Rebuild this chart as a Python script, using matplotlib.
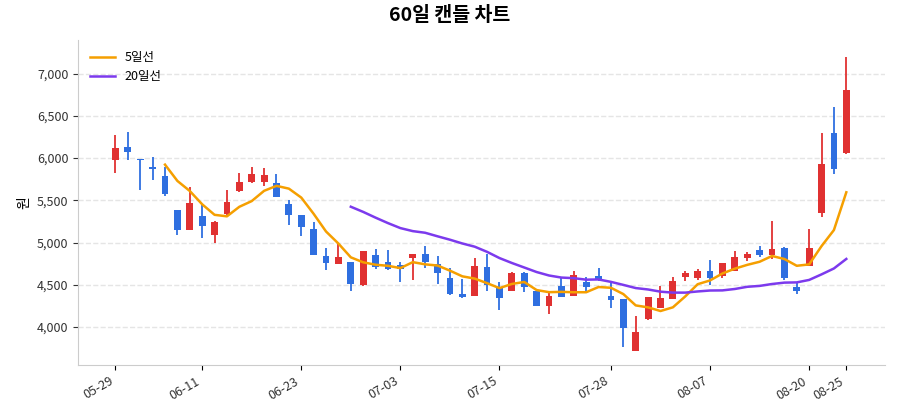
import matplotlib
matplotlib.use('Agg')
import matplotlib.pyplot as plt
import numpy as np
import pandas as pd

plt.rcParams['font.family'] = ['Noto Sans CJK KR', 'DejaVu Sans']

dates = ['05-29', '05-30', '06-02', '06-04', '06-05', '06-09', '06-10', '06-11', '06-12', '06-13',
         '06-16', '06-17', '06-18', '06-19', '06-20', '06-23', '06-24', '06-25', '06-26', '06-27',
         '06-30', '07-01', '07-02', '07-03', '07-04', '07-07', '07-08', '07-09', '07-10', '07-11',
         '07-14', '07-15', '07-16', '07-17', '07-18', '07-21', '07-22', '07-23', '07-24', '07-25',
         '07-28', '07-29', '07-30', '07-31', '08-01', '08-04', '08-05', '08-06', '08-07', '08-08',
         '08-11', '08-12', '08-13', '08-14', '08-18', '08-19', '08-20', '08-21', '08-22', '08-25']
opens = [5976, 6130, 5990, 5898, 5788, 5388, 5153, 5318, 5094, 5341,
         5612, 5721, 5721, 5706, 5459, 5330, 5165, 4835, 4749, 4768,
         4494, 4847, 4765, 4730, 4812, 4859, 4741, 4576, 4388, 4368,
         4706, 4459, 4427, 4635, 4427, 4243, 4490, 4368, 4533, 4604,
         4368, 4329, 3718, 4094, 4224, 4329, 4588, 4584, 4659, 4600,
         4663, 4812, 4906, 4847, 4930, 4470, 4721, 5353, 6298, 6059]
highs = [6271, 6306, 5990, 6012, 5894, 5388, 5663, 5447, 5260, 5624,
         5827, 5894, 5880, 5812, 5506, 5330, 5240, 4941, 4988, 4768,
         4894, 4918, 4906, 4768, 4860, 4957, 4835, 4694, 4565, 4812,
         4859, 4529, 4655, 4650, 4427, 4412, 4588, 4659, 4588, 4694,
         4518, 4329, 4133, 4360, 4490, 4588, 4663, 4690, 4788, 4753,
         4898, 4886, 4965, 5251, 4950, 4533, 5165, 6298, 6600, 7200]
lows = [5824, 5976, 5624, 5741, 5553, 5094, 5150, 5059, 5000, 5310,
        5600, 5710, 5670, 5541, 5212, 5075, 4850, 4674, 4749, 4424,
        4480, 4682, 4680, 4533, 4557, 4702, 4506, 4376, 4341, 4368,
        4427, 4204, 4427, 4412, 4247, 4153, 4360, 4368, 4427, 4550,
        4224, 3765, 3718, 4080, 4224, 4329, 4545, 4560, 4494, 4580,
        4663, 4780, 4824, 4800, 4560, 4388, 4721, 5306, 5812, 6050]
closes = [6118, 6070, 5980, 5870, 5576, 5153, 5474, 5192, 5247, 5486,
          5718, 5812, 5800, 5541, 5321, 5188, 4850, 4753, 4827, 4506,
          4894, 4706, 4690, 4690, 4859, 4765, 4635, 4388, 4353, 4725,
          4494, 4341, 4635, 4470, 4247, 4368, 4360, 4612, 4470, 4557,
          4322, 3988, 3941, 4353, 4341, 4541, 4635, 4663, 4576, 4753,
          4827, 4859, 4847, 4918, 4576, 4424, 4941, 5929, 5870, 6812]
tick_dates = ['05-29', '06-11', '06-23', '07-03', '07-15', '07-28', '08-07', '08-20', '08-25']

df = pd.DataFrame({'open': opens, 'high': highs, 'low': lows, 'close': closes})
ma5 = df['close'].rolling(5).mean()
ma20 = df['close'].rolling(20).mean()
x = np.arange(len(df))

up_c = '#e03131'
down_c = '#2f6fe0'

fig = plt.figure(figsize=(9, 4.2), dpi=100)
ax = fig.add_axes([0.087, 0.131, 0.896, 0.774])

for i, r in df.iterrows():
    c = up_c if r['close'] >= r['open'] else down_c
    ax.vlines(i, r['low'], r['high'], color=c, linewidth=1.3, zorder=2)
    lo = min(r['open'], r['close'])
    h = max(abs(r['close'] - r['open']), 12)
    ax.bar(i, h, bottom=lo, width=0.55, color=c, zorder=3)

ax.plot(x, ma5, color='#f59f00', linewidth=1.8, label='5일선', zorder=4)
ax.plot(x, ma20, color='#7c3aed', linewidth=1.8, label='20일선', zorder=4)

ax.set_xlim(-3, 62.1)
ax.set_ylim(3550, 7400)
ax.set_xticks([dates.index(d) for d in tick_dates])
ax.set_xticklabels(tick_dates, rotation=30, ha='right', fontsize=9, color='#333333')
ax.yaxis.set_major_formatter(matplotlib.ticker.FuncFormatter(lambda v, p: f'{int(v):,}'))
ax.set_yticks([4000, 4500, 5000, 5500, 6000, 6500, 7000])
ax.tick_params(axis='y', labelsize=9, colors='#333333')
ax.set_ylabel('원', fontsize=10)
ax.grid(axis='y', linestyle='--', color='#e5e5e5', linewidth=1)
ax.set_axisbelow(True)
for s in ['top', 'right']:
    ax.spines[s].set_visible(False)
for s in ['left', 'bottom']:
    ax.spines[s].set_color('#cccccc')
ax.legend(loc='upper left', frameon=False, fontsize=9)
fig.suptitle('60일 캔들 차트', fontsize=14, fontweight='bold', y=0.985)

fig.savefig('out.png', dpi=100)
